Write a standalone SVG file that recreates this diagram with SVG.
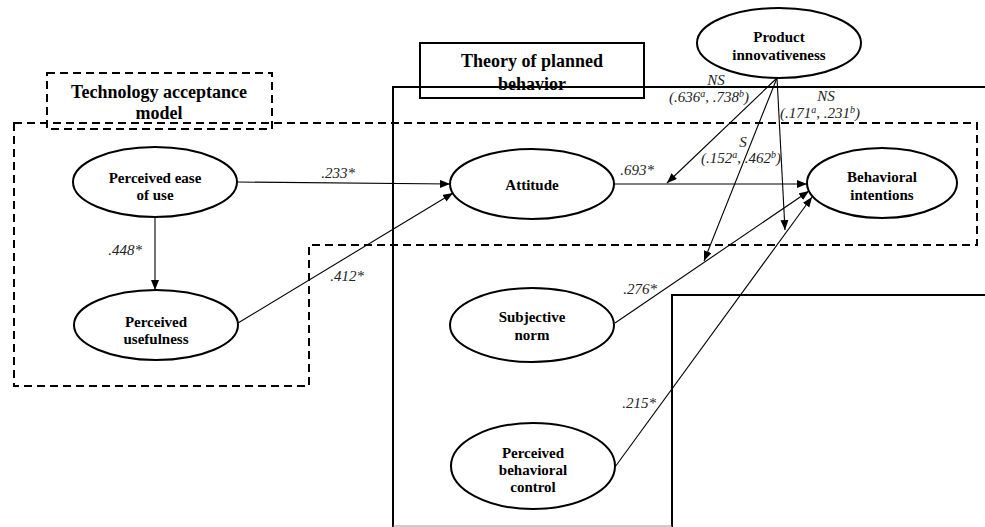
<svg xmlns="http://www.w3.org/2000/svg" width="985" height="527" viewBox="0 0 985 527">
<defs>
<marker id="arr" markerUnits="userSpaceOnUse" markerWidth="11" markerHeight="9" refX="10" refY="4" orient="auto">
<path d="M0,0 L10,4 L0,8 z" fill="#000"/>
</marker>
<style>
.node ellipse{fill:#fff;stroke:#000;stroke-width:2}
.nt{font-family:"Liberation Serif","Times New Roman",serif;font-weight:bold;font-size:15px;text-anchor:middle;fill:#000}
.bt{font-family:"Liberation Serif","Times New Roman",serif;font-weight:bold;font-size:18px;text-anchor:middle;fill:#000}
.lb{font-family:"Liberation Serif","Times New Roman",serif;font-style:italic;font-size:15px;text-anchor:middle;fill:#222}
.sup{font-size:10px}
.dash{fill:none;stroke:#000;stroke-width:2;stroke-dasharray:8 5}
.solid{fill:none;stroke:#000;stroke-width:2}
.edge{fill:none;stroke:#000;stroke-width:1.1;marker-end:url(#arr)}
</style>
</defs>
<rect width="985" height="527" fill="#fff"/>

<g id="frames">
<path class="solid" d="M393,527 L393,87 L985,87"/>
<path class="solid" d="M672,527 L672,295 L985,295"/>
<line x1="393" y1="526" x2="672" y2="526" stroke="#999" stroke-width="1"/>
<path class="dash" d="M14,123 L977,123 L977,245 L309,245 L309,386 L14,386 Z"/>
</g>

<g id="tam-label">
<rect class="dash" x="47" y="73" width="225" height="56"/>
<text class="bt" x="159" y="98">Technology acceptance</text>
<text class="bt" x="159" y="119">model</text>
</g>

<g id="tpb-label">
<rect class="solid" x="420" y="43" width="224" height="55"/>
<text class="bt" x="532" y="67">Theory of planned</text>
<text class="bt" x="532" y="90">behavior</text>
</g>

<g id="connectors">
<line class="edge" x1="155" y1="217" x2="155" y2="290"/>
<line class="edge" x1="237" y1="182" x2="450" y2="184"/>
<line class="edge" x1="238" y1="323" x2="453" y2="193"/>
<line class="edge" x1="614" y1="184" x2="807" y2="184"/>
<line class="edge" x1="615" y1="323" x2="809" y2="191"/>
<line class="edge" x1="615" y1="467" x2="812" y2="197"/>
<line class="edge" x1="777" y1="78" x2="667" y2="183"/>
<line class="edge" x1="777" y1="78" x2="704" y2="261"/>
<line class="edge" x1="777" y1="78" x2="785" y2="230"/>
<text class="lb" x="125" y="255">.448*</text>
<text class="lb" x="338" y="178">.233*</text>
<text class="lb" x="347" y="281">.412*</text>
<text class="lb" x="637" y="175">.693*</text>
<text class="lb" x="640" y="294">.276*</text>
<text class="lb" x="639" y="408">.215*</text>
<text class="lb" x="716" y="85">NS</text>
<text class="lb" x="709" y="102">(.636<tspan class="sup" dy="-5">a</tspan><tspan dy="5">, .738</tspan><tspan class="sup" dy="-5">b</tspan><tspan dy="5">)</tspan></text>
<text class="lb" x="743" y="147">S</text>
<text class="lb" x="741" y="163">(.152<tspan class="sup" dy="-5">a</tspan><tspan dy="5">, .462</tspan><tspan class="sup" dy="-5">b</tspan><tspan dy="5">)</tspan></text>
<text class="lb" x="826" y="101">NS</text>
<text class="lb" x="820" y="118">(.171<tspan class="sup" dy="-5">a</tspan><tspan dy="5">, .231</tspan><tspan class="sup" dy="-5">b</tspan><tspan dy="5">)</tspan></text>
</g>

<g id="peou" class="node">
<ellipse cx="155" cy="182" rx="82" ry="35"/>
<text class="nt" x="155" y="183">Perceived ease</text>
<text class="nt" x="155" y="200">of use</text>
</g>
<g id="pu" class="node">
<ellipse cx="156" cy="325" rx="82" ry="35"/>
<text class="nt" x="156" y="327">Perceived</text>
<text class="nt" x="156" y="344">usefulness</text>
</g>
<g id="attitude" class="node">
<ellipse cx="532" cy="184" rx="82" ry="35"/>
<text class="nt" x="532" y="190">Attitude</text>
</g>
<g id="bi" class="node">
<ellipse cx="882" cy="183" rx="75" ry="35"/>
<text class="nt" x="882" y="182">Behavioral</text>
<text class="nt" x="882" y="200">intentions</text>
</g>
<g id="sn" class="node">
<ellipse cx="532" cy="325" rx="82" ry="37"/>
<text class="nt" x="532" y="322">Subjective</text>
<text class="nt" x="532" y="340">norm</text>
</g>
<g id="pbc" class="node">
<ellipse cx="533" cy="466" rx="82" ry="43"/>
<text class="nt" x="533" y="458">Perceived</text>
<text class="nt" x="533" y="475">behavioral</text>
<text class="nt" x="533" y="492">control</text>
</g>
<g id="pi" class="node">
<ellipse cx="779" cy="43" rx="82" ry="35"/>
<text class="nt" x="779" y="42">Product</text>
<text class="nt" x="779" y="60">innovativeness</text>
</g>
</svg>
